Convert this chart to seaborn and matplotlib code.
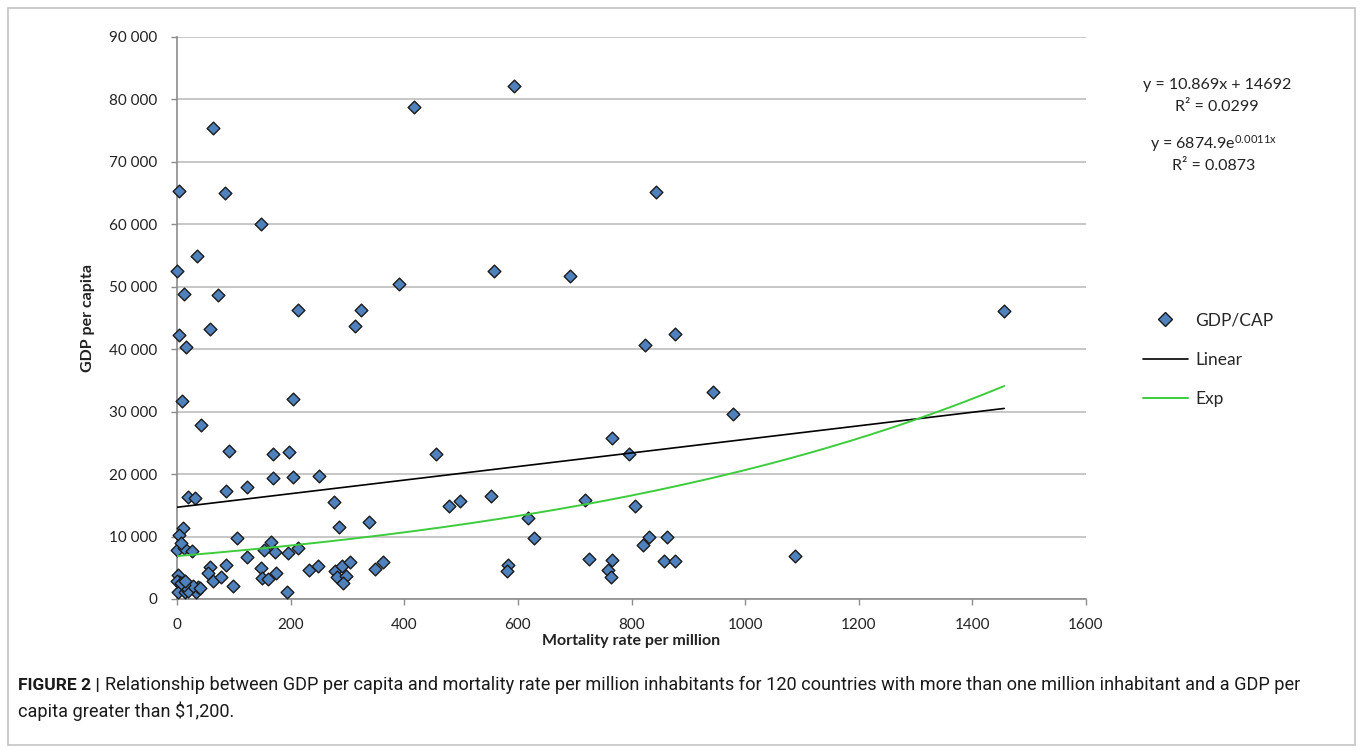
import numpy as np
import pandas as pd
import matplotlib
matplotlib.use("Agg")
import matplotlib.pyplot as plt
from matplotlib.patches import Rectangle
from matplotlib.lines import Line2D
from matplotlib import font_manager
import seaborn as sns

# mortality rate per million (x) and GDP per capita (y)
mortality = [
    418, 593, 64, 4, 84, 843, 147, 35, 0.5, 558,
    692, 391, 13, 73, 213, 324, 1456, 313, 58, 4,
    16, 824, 877, 943, 979, 205, 9, 42, 766, 92,
    169, 198, 456, 795, 169, 205, 250, 124, 86, 20,
    32, 277, 479, 498, 552, 718, 806, 618, 286, 338,
    10, 4, 105, 628, 831, 863, 820, 0.5, 13, 7,
    27, 166, 153, 173, 195, 213, 124, 1088, 726, 765,
    858, 877, 583, 580, 759, 764, 233, 249, 278, 291,
    304, 281, 297, 293, 348, 363, 147, 150, 161, 174,
    193, 87, 58, 55, 64, 77, 98, 2, 4, 9,
    16, 2, 14, 33, 37, 0, 20, 28, 12, 40,
    7, 14,
]
gdp = [
    78800, 82200, 75500, 65400, 65000, 65200, 60000, 55000, 52500, 52600,
    51700, 50400, 48800, 48700, 46300, 46300, 46100, 43700, 43200, 42200,
    40300, 40600, 42400, 33200, 29600, 32000, 31700, 27900, 25800, 23700,
    23200, 23500, 23200, 23200, 19300, 19500, 19700, 17900, 17300, 16300,
    16100, 15500, 14900, 15700, 16500, 15800, 14900, 12900, 11600, 12300,
    11300, 10200, 9800, 9800, 9900, 10000, 8600, 7800, 8100, 9000,
    7700, 9200, 7800, 7600, 7400, 8200, 6700, 6900, 6400, 6200,
    6100, 6100, 5500, 4500, 4700, 3500, 4700, 5300, 4500, 5300,
    6000, 3500, 3700, 2500, 4800, 5900, 4900, 3300, 3200, 4200,
    1200, 5400, 5200, 4100, 2900, 3600, 2100, 3800, 2800, 2100,
    2100, 1200, 1200, 1200, 2000, 2900, 1300, 2100, 2200, 1800,
    2500, 2900,
]

# trendline coefficients shown on the chart
lin_slope, lin_icpt, lin_r2 = 10.869, 14692, 0.0299
exp_a, exp_b, exp_r2 = 6874.9, 0.0011, 0.0873

x_ticks = [0, 200, 400, 600, 800, 1000, 1200, 1400, 1600]
y_ticks = [0, 10000, 20000, 30000, 40000, 50000, 60000, 70000, 80000, 90000]

df = pd.DataFrame({"mortality": mortality, "gdp": gdp})
xs = np.linspace(0, max(mortality), 200)
trend = pd.DataFrame({"x": xs,
                      "linear": lin_slope * xs + lin_icpt,
                      "exp": exp_a * np.exp(exp_b * xs)})

sns.set_theme(style="white")
plt.rcParams["font.family"] = ["Lato", "DejaVu Sans"]
plt.rcParams["mathtext.fontset"] = "custom"
plt.rcParams["mathtext.rm"] = "Lato"
plt.rcParams["mathtext.it"] = "Lato"

W, H = 1363, 752
fig = plt.figure(figsize=(W / 100, H / 100), dpi=100)
ax = fig.add_axes([177 / W, 1 - 599 / H, (1086 - 177) / W, (599 - 37) / H])

sns.scatterplot(data=df, x="mortality", y="gdp", marker="D", s=42,
                color="#4f81bd", edgecolor="#1a1a1a", linewidth=1.0,
                ax=ax, zorder=3, legend=False, clip_on=False)
sns.lineplot(data=trend, x="x", y="linear", color="black", linewidth=1.2,
             ax=ax, zorder=4)
sns.lineplot(data=trend, x="x", y="exp", color="#3ccc3c", linewidth=1.4,
             ax=ax, zorder=4)

ax.set_xlim(0, 1600)
ax.set_ylim(0, 90000)
ax.set_xticks(x_ticks)
ax.set_yticks(y_ticks)
ax.set_yticklabels([f"{v:,}".replace(",", " ") for v in y_ticks])
ax.grid(axis="y", color="#bdbdbd", linewidth=1.2)
ax.set_axisbelow(True)
for side in ["top", "right"]:
    ax.spines[side].set_visible(False)
for side in ["left", "bottom"]:
    ax.spines[side].set_color("#8c8c8c")
    ax.spines[side].set_linewidth(1.2)
ax.tick_params(axis="both", which="both", direction="out", length=4,
               width=1.0, color="#8c8c8c", labelsize=11, labelcolor="#222222",
               bottom=True, left=True)
ax.tick_params(axis="x", pad=9.5)
ax.tick_params(axis="y", pad=10)
ax.set_xlabel("Mortality rate per million", fontsize=11.5, fontweight="bold",
              color="#222222", labelpad=1.5)
ax.set_ylabel("GDP per capita", fontsize=11.5, fontweight="bold",
              color="#222222", labelpad=10)

# trendline equations
fig.text(1217 / W, 1 - 85 / H, f"y = {lin_slope}x + {lin_icpt}", ha="center",
         va="center", fontsize=11.5, color="#222222")
fig.text(1217 / W, 1 - 107 / H, f"R² = {lin_r2}", ha="center", va="center",
         fontsize=11.5, color="#222222")
fig.text(1214 / W, 1 - 144 / H, rf"y = {exp_a}e$^{{{exp_b}x}}$", ha="center",
         va="center", fontsize=11.5, color="#222222")
fig.text(1214 / W, 1 - 166 / H, f"R² = {exp_r2}", ha="center", va="center",
         fontsize=11.5, color="#222222")

# legend
handles = [
    Line2D([], [], marker="D", linestyle="none", markersize=7,
           markerfacecolor="#4f81bd", markeredgecolor="#1a1a1a"),
    Line2D([], [], color="black", linewidth=1.2),
    Line2D([], [], color="#3ccc3c", linewidth=1.4),
]
fig.legend(handles, ["GDP/CAP", "Linear", "Exp"], loc="center left",
           bbox_to_anchor=(1127 / W, 1 - 360 / H), frameon=False,
           fontsize=12.5, handlelength=2.6, labelspacing=1.35, handletextpad=0.45)

# caption
avail = {f.name for f in font_manager.fontManager.ttflist}
cap_font = ["Liberation Sans Narrow"] if "Liberation Sans Narrow" in avail else ["Roboto"]
fig.text(18 / W, 1 - 685 / H, "FIGURE 2 |", ha="left", va="center",
         fontsize=12.5, fontweight="bold", color="#1a1a1a", family=cap_font)
fig.text(105 / W, 1 - 685 / H,
         "Relationship between GDP per capita and mortality rate per million "
         "inhabitants for 120 countries with more than one million inhabitant "
         "and a GDP per", ha="left", va="center", fontsize=13.1,
         color="#1a1a1a", family=cap_font)
fig.text(18 / W, 1 - 711 / H, "capita greater than $1,200.", ha="left",
         va="center", fontsize=13.1, color="#1a1a1a", family=cap_font)

# outer frame
fig.patches.append(Rectangle((8 / W, 7 / H), 1347 / W, 737 / H,
                             transform=fig.transFigure, fill=False,
                             edgecolor="#c4c4c4", linewidth=1.2))

fig.savefig("out.png", dpi=100)
